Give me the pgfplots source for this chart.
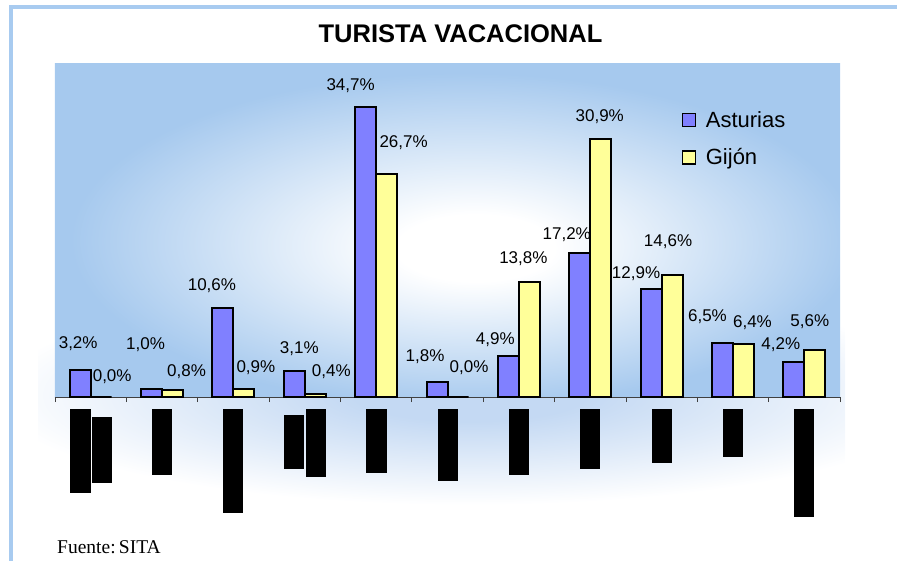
\documentclass[border=0pt]{standalone}
\usepackage{fontspec}
\setmainfont{Liberation Sans}
\newfontfamily\seriffont{Liberation Serif}
\usepackage{pgfplots}
\pgfplotsset{compat=1.18}
\usepackage{pgfplotstable}
\definecolor{frameblue}{HTML}{A8CBF0}
\definecolor{pbg}{HTML}{A6C9EE}
\definecolor{cbg}{HTML}{C4D9F3}
\definecolor{ast}{HTML}{8080FF}
\definecolor{gij}{HTML}{FFFF99}
\definecolor{axgray}{HTML}{404040}
\pgfdeclareradialshading{plotbg}{\pgfpoint{2bp}{-3bp}}{color(0bp)=(white); color(5bp)=(white); color(25bp)=(pbg); color(50bp)=(pbg)}
\pgfdeclareradialshading{chartbg}{\pgfpoint{0bp}{0bp}}{color(0bp)=(cbg); color(6bp)=(cbg); color(25bp)=(white); color(50bp)=(white)}

\pgfplotstableread{
x y dx dy
1 3.2 -2 27
2 1.0 -6 44
3 10.6 -11 23
4 3.1 5 22
5 34.7 -15 22
6 1.8 -12 25
7 4.9 -13 16
8 17.2 -13 19
9 12.9 -15 16
10 6.5 -15 26
11 4.2 -13 17
}\asturias

\pgfplotstableread{
x y dx dy
1 0.0 11 20
2 0.8 14 19
3 0.9 12 22
4 0.4 16 22
5 26.7 17 31
6 0.0 11 29
7 13.8 -6 23
8 30.9 -1 22
9 14.6 -4 33
10 6.4 9 21
11 5.6 -5 29
}\gijon

\begin{document}
\begin{tikzpicture}
\useasboundingbox (-55pt,-163pt) rectangle (842pt,397pt);
\begin{scope}
\clip (-17pt,-123pt) rectangle (790pt,372pt);
\shade[shading=chartbg] (-65pt,-108pt) rectangle (895pt,112pt);
\end{scope}
\draw[frameblue, line width=4pt] (-44pt,-173pt) rectangle (850pt,390pt);
\node[anchor=base, font=\bfseries\fontsize{25.5}{28}\selectfont, inner sep=0pt] at (405.5pt,354pt) {TURISTA VACACIONAL};
\node[anchor=base west, font=\seriffont\fontsize{19.5}{22}\selectfont, inner sep=0pt] at (2pt,-156pt) {Fuente:\,SITA};
\begin{axis}[
  scale only axis, width=785pt, height=334pt,
  ybar=0pt, bar width=21pt,
  xmin=0.5, xmax=11.5, ymin=0, ymax=40,
  axis x line*=bottom, axis y line=none,
  x axis line style={axgray, line width=0.8pt},
  xtick={1,...,11},
  xticklabels={
    {\rule[-84pt]{21pt}{84pt}\hspace{1pt}\rule[-74pt]{20pt}{66pt}},
    {\rule[-66pt]{20pt}{66pt}},
    {\rule[-104pt]{20pt}{104pt}},
    {\rule[-60pt]{20pt}{54pt}\hspace{2pt}\rule[-68pt]{20pt}{68pt}},
    {\rule[-64pt]{21pt}{64pt}},
    {\rule[-72pt]{20pt}{72pt}},
    {\rule[-66pt]{20pt}{66pt}},
    {\rule[-60pt]{20pt}{60pt}},
    {\rule[-54pt]{20pt}{54pt}},
    {\rule[-48pt]{20pt}{48pt}},
    {\rule[-108pt]{20pt}{108pt}}},
  xticklabel style={anchor=north, inner sep=0pt, yshift=-8pt},
  major x tick style={draw=none},
  minor xtick={0.5,1.5,...,11.5},
  minor tick length=5pt, tick align=outside,
  minor x tick style={axgray, line width=0.8pt},
  ytick=\empty,
  axis background/.style={shade, shading=plotbg},
  clip=false,
  visualization depends on={\thisrow{dx} \as \labdx},
  visualization depends on={\thisrow{dy} \as \labdy},
  nodes near coords={\pgfmathprintnumber[fixed,fixed zerofill,precision=1,use comma,assume math mode=true]{\pgfplotspointmeta}\%},
  every node near coord/.append style={font=\fontsize{17}{19}\selectfont, anchor=center, xshift=\labdx, yshift=\labdy, inner sep=0pt, text=black},
  legend style={at={(0.795,0.868)}, anchor=north west, draw=none, fill=none, font=\fontsize{22}{24}\selectfont, row sep=16pt},
  legend image code/.code={\draw[#1, line width=1.2pt] (0pt,-6.5pt) rectangle (13pt,6.5pt); \path (20pt,0pt);},
  legend cell align=left,
]
\addplot[fill=ast, draw=black, line width=2pt] table[x=x,y=y]{\asturias};
\addplot[fill=gij, draw=black, line width=2pt] table[x=x,y=y]{\gijon};
\legend{Asturias, Gijón}
\end{axis}
\end{tikzpicture}
\end{document}
